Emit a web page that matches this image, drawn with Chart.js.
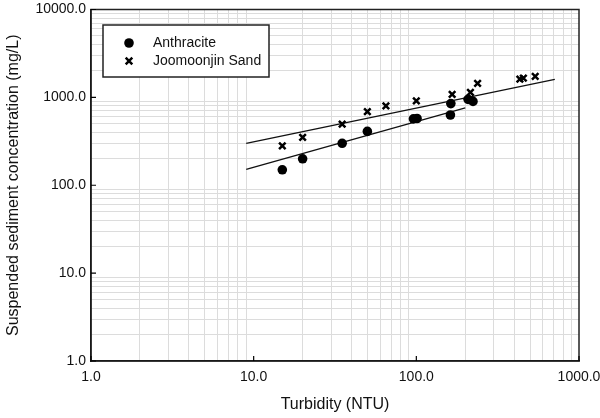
<!DOCTYPE html>
<html>
<head>
<meta charset="utf-8">
<script src="https://cdn.jsdelivr.net/npm/chart.js@4.4.0/dist/chart.umd.min.js"></script>
<style>
html,body{margin:0;padding:0;background:#fff;}
#wrap{width:600px;height:418px;position:relative;}
</style>
</head>
<body>
<div id="wrap"><canvas id="c"></canvas></div>
<script>
// ---- data ----
const seriesNames = ["Anthracite", "Joomoonjin Sand"];
const turbidityAnthracite = [15, 20, 35, 50, 96, 101, 162, 163, 208, 223];
const sscAnthracite       = [150, 200, 300, 410, 570, 575, 630, 850, 950, 900];
const turbiditySand = [15, 20, 35, 50, 65, 100, 166, 215, 238, 433, 455, 538];
const sscSand       = [280, 350, 495, 690, 800, 910, 1080, 1140, 1440, 1610, 1660, 1730];
const fitAnthraciteX = [9, 200];
const fitAnthraciteY = [152, 760];
const fitSandX = [9, 710];
const fitSandY = [300, 1600];
const xRange = [1, 1000];
const yRange = [1, 10000];
const xTitle = "Turbidity (NTU)";
const yTitle = "Suspended sediment concentration (mg/L)";

const FONT = "'Liberation Sans', Arial, sans-serif";
const toPts = (xs, ys) => xs.map((x, i) => ({x: x, y: ys[i]}));
const isMajor = v => Math.abs(Math.log10(v) - Math.round(Math.log10(v))) < 1e-9;

function logTicks(scale) {
  const t = [];
  const lo = Math.round(Math.log10(scale.min)), hi = Math.round(Math.log10(scale.max));
  for (let e = lo; e <= hi; e++) {
    for (let m = 1; m <= 9; m++) {
      const v = m * Math.pow(10, e);
      if (v <= scale.max * 1.000001) t.push({value: v});
    }
  }
  scale.ticks = t;
}

const framePlugin = {
  id: 'frame',
  afterDatasetsDraw(chart) {
    const {ctx, chartArea: a, scales} = chart;
    ctx.save();
    ctx.strokeStyle = '#222';
    ctx.lineWidth = 1.5;
    ctx.strokeRect(a.left, a.top, a.right - a.left, a.bottom - a.top);
    // inward major ticks
    ctx.strokeStyle = '#000';
    ctx.lineWidth = 1.2;
    ctx.beginPath();
    scales.x.ticks.forEach(t => {
      if (isMajor(t.value)) {
        const px = scales.x.getPixelForValue(t.value);
        ctx.moveTo(px, a.bottom); ctx.lineTo(px, a.bottom - 5);
      }
    });
    scales.y.ticks.forEach(t => {
      if (isMajor(t.value)) {
        const py = scales.y.getPixelForValue(t.value);
        ctx.moveTo(a.left, py); ctx.lineTo(a.left + 5, py);
      }
    });
    ctx.stroke();
    // legend box
    const bx = a.left + 12, by = a.top + 15.5, bw = 166, bh = 52;
    ctx.fillStyle = '#fff';
    ctx.fillRect(bx, by, bw, bh);
    ctx.strokeStyle = '#222';
    ctx.lineWidth = 1.5;
    ctx.strokeRect(bx, by, bw, bh);
    const items = chart.data.datasets.filter(d => d.inLegend);
    items.forEach((d, i) => {
      const cx = bx + 26, cy = by + 18 + i * 18;
      ctx.fillStyle = '#000';
      ctx.strokeStyle = '#000';
      if (d.pointStyle === 'circle') {
        ctx.beginPath(); ctx.arc(cx, cy, 4.8, 0, Math.PI * 2); ctx.fill();
      } else {
        ctx.lineWidth = 2.5;
        const r = 3.3;
        ctx.beginPath();
        ctx.moveTo(cx - r, cy - r); ctx.lineTo(cx + r, cy + r);
        ctx.moveTo(cx + r, cy - r); ctx.lineTo(cx - r, cy + r);
        ctx.stroke();
      }
      ctx.font = '14px ' + FONT;
      ctx.textBaseline = 'middle';
      ctx.textAlign = 'left';
      ctx.fillStyle = '#111';
      ctx.fillText(d.label, bx + 50, cy);
    });
    ctx.restore();
  }
};

const axisCommon = (range, title) => ({
  type: 'logarithmic',
  min: range[0],
  max: range[1],
  afterBuildTicks: logTicks,
  grid: {
    drawTicks: false,
    lineWidth: 1,
    color: c => (c.tick && isMajor(c.tick.value)) ? 'rgba(0,0,0,0)' : '#dcdcdc'
  },
  border: {display: true, color: '#000', width: 1.5},
  title: {display: true, text: title, color: '#111', font: {family: FONT, size: 16}},
  ticks: {
    autoSkip: false,
    maxRotation: 0,
    minRotation: 0,
    color: '#111',
    font: {family: FONT, size: 14},
    callback: (v) => isMajor(v) ? Number(v).toFixed(1) : ''
  }
});

const xAxis = axisCommon(xRange, xTitle);
xAxis.ticks.padding = 8;
xAxis.afterFit = s => { s.height = 57; s.paddingLeft = 0; s.paddingRight = 0; };
const yAxis = axisCommon(yRange, yTitle);
yAxis.ticks.padding = 5;
yAxis.afterFit = s => { s.width = 91; s.paddingTop = 0; s.paddingBottom = 0; };

new Chart(document.getElementById('c'), {
  type: 'scatter',
  data: {
    datasets: [
      {label: seriesNames[0], inLegend: true, data: toPts(turbidityAnthracite, sscAnthracite),
       pointStyle: 'circle', pointRadius: 4.8, backgroundColor: '#000', borderColor: '#000', borderWidth: 0},
      {label: seriesNames[1], inLegend: true, data: toPts(turbiditySand, sscSand),
       pointStyle: 'crossRot', pointRadius: 4.6, backgroundColor: '#000', borderColor: '#000', borderWidth: 2.5},
      {label: 'fitA', data: toPts(fitAnthraciteX, fitAnthraciteY), showLine: true, pointRadius: 0,
       borderColor: '#111', borderWidth: 1.3, fill: false},
      {label: 'fitS', data: toPts(fitSandX, fitSandY), showLine: true, pointRadius: 0,
       borderColor: '#111', borderWidth: 1.3, fill: false}
    ]
  },
  options: {
    responsive: true,
    maintainAspectRatio: false,
    devicePixelRatio: 1,
    animation: false,
    layout: {autoPadding: false, padding: {top: 9.5, right: 21, bottom: 0, left: 0}},
    plugins: {legend: {display: false}, tooltip: {enabled: false}},
    scales: {x: xAxis, y: yAxis}
  },
  plugins: [framePlugin]
});
</script>
</body>
</html>
